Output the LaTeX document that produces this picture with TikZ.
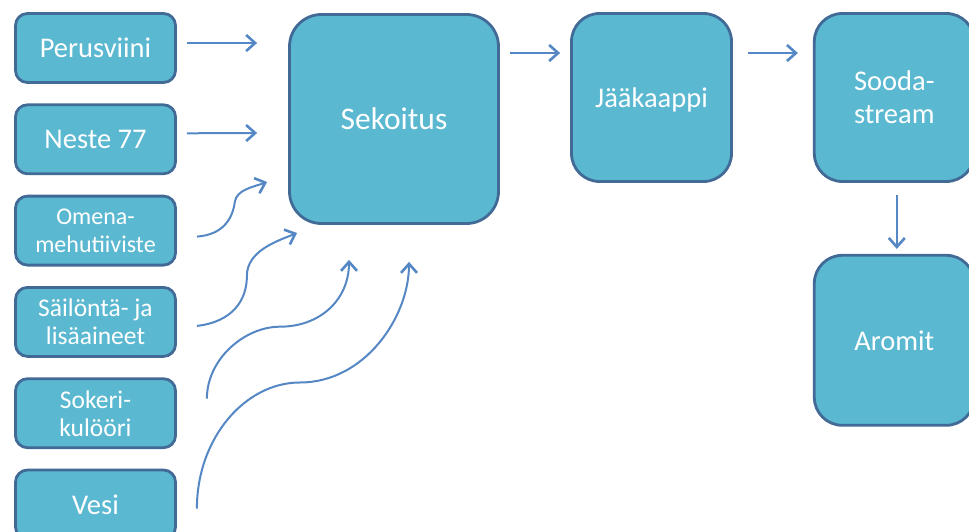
\documentclass[tikz,border=0pt]{standalone}
\usepackage{fontspec}
\setmainfont{Carlito}
\usepackage{xcolor}
\usepackage{tikz}
\usetikzlibrary{arrows.meta, positioning}
\definecolor{boxfill}{RGB}{91, 184, 209}
\definecolor{boxedge}{RGB}{66, 106, 150}
\definecolor{flowblue}{RGB}{84, 135, 196}

\begin{document}
\begin{tikzpicture}[
    x=1pt, y=-1pt,
    box/.style={draw=boxedge, line width=2.8pt, fill=boxfill, rounded corners=12pt,
                minimum width=160pt, minimum height=69pt, text=white, align=center,
                text depth=0pt, font=\fontsize{28.5}{33}\selectfont},
    bigbox/.style={box, rounded corners=32pt},
    flow/.style={draw=flowblue, line width=2pt,
                 -{Straight Barb[length=9pt,width=16pt,line width=2.6pt]}}
]
    \useasboundingbox (0,0) rectangle (969,532);
    \node[box] (perus) at (95.5,48) {Perusviini};
    \node[box, below=19.5pt of perus] (neste) {Neste 77};
    \node[box, below=19.5pt of neste, font=\fontsize{24}{28}\selectfont] (omena) {Omena-\\mehutiiviste};
    \node[box, below=19.5pt of omena, font=\fontsize{25.5}{28}\selectfont] (sailonta) {Säilöntä- ja\\lisäaineet};
    \node[box, below=19.5pt of sailonta, font=\fontsize{25.5}{28}\selectfont] (sokeri) {Sokeri-\\kulööri};
    \node[box, below=19.5pt of sokeri] (vesi) {Vesi};
    \node[bigbox, minimum size=209pt, font=\fontsize{31.5}{33}\selectfont] (sekoitus) at (394,119) {Sekoitus};
    \node[bigbox, minimum height=168pt, rounded corners=28pt] (jaakaappi) at (651.5,97.5) {Jääkaappi};
    \node[bigbox, minimum height=168pt, rounded corners=28pt, right=80pt of jaakaappi] (sooda) {Sooda-\\stream};
    \node[bigbox, minimum height=170pt, rounded corners=28pt, below=71pt of sooda] (aromit) {Aromit};

    \draw[flow] ([xshift=10pt,yshift=5pt]perus.east) -- ([xshift=-31pt,yshift=76pt]sekoitus.west);
    \draw[flow] ([xshift=10pt,yshift=6pt]neste.east) -- ([xshift=-31pt,yshift=-14pt]sekoitus.west);
    \draw[flow] ([xshift=20pt,yshift=-6pt]omena.east) .. controls +(28,-2) and +(-2,15) .. ++(38,-35)
        .. controls +(2,-12) and +(-14,5) .. ([xshift=-21pt,yshift=-63pt]sekoitus.west);
    \draw[flow] ([xshift=20pt,yshift=-4pt]sailonta.east) .. controls +(35,-4) and +(0,25) .. ++(50,-50)
        .. controls +(0,-25) and +(-20,8) .. ([xshift=9pt,yshift=-114pt]sekoitus.west);
    \draw[flow] ([xshift=30pt,yshift=14.5pt]sokeri.east) .. controls +(0,-40) and +(-35,0) .. ++(73,-72)
        .. controls +(40,0) and +(0,40) .. ([xshift=-45pt,yshift=-35pt]sekoitus.south);
    \draw[flow] ([xshift=20pt,yshift=-4pt]vesi.east) .. controls +(0,-70) and +(-55,0) .. ++(103,-126)
        .. controls +(65,0) and +(0,55) .. ([xshift=15pt,yshift=-37pt]sekoitus.south);
    \draw[flow] ([xshift=10pt,yshift=66pt]sekoitus.east) -- ([xshift=-10pt,yshift=44.5pt]jaakaappi.west);
    \draw[flow] ([xshift=15pt,yshift=44.5pt]jaakaappi.east) -- ([xshift=-15pt,yshift=44.5pt]sooda.west);
    \draw[flow] ([xshift=2.5pt,yshift=-12pt]sooda.south) -- ([xshift=2.5pt,yshift=5pt]aromit.north);
\end{tikzpicture}
\end{document}
